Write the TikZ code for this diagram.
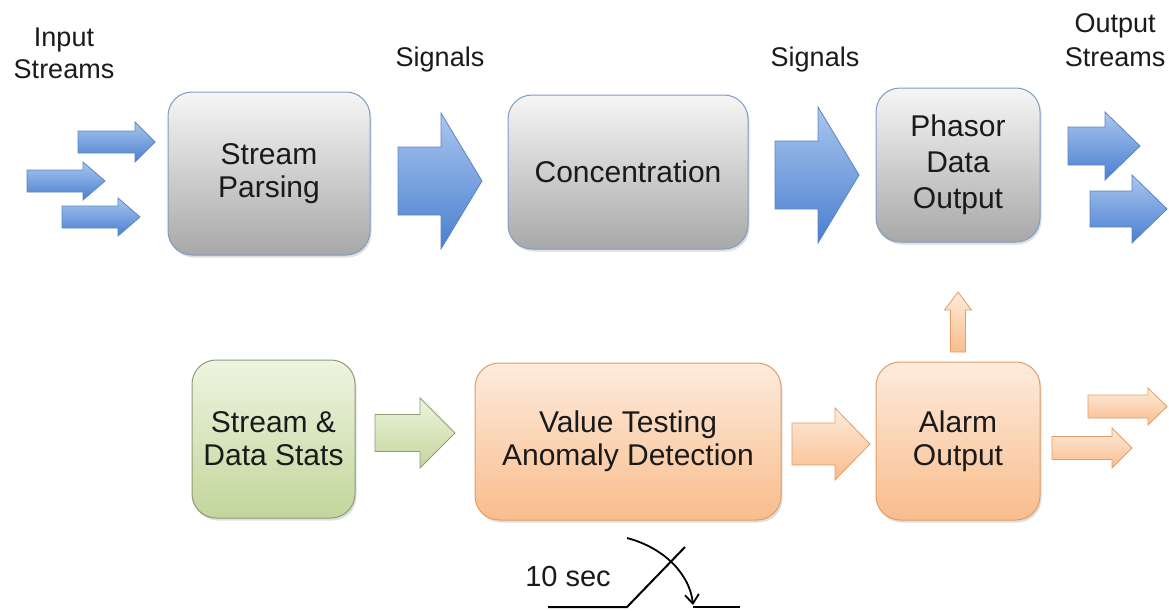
\documentclass[tikz,border=0pt]{standalone}
\usepackage{fontspec}
\setmainfont{Liberation Sans}
\usetikzlibrary{arrows.meta,shadows}
\definecolor{bluetop}{HTML}{A9C6EE}
\definecolor{bluebot}{HTML}{4A7FD0}
\definecolor{blueedge}{HTML}{5A86C0}
\definecolor{graytop}{HTML}{F6F6F6}
\definecolor{graybot}{HTML}{A8A8A8}
\definecolor{grayedge}{HTML}{7F9BC8}
\definecolor{greentop}{HTML}{EEF4E0}
\definecolor{greenbot}{HTML}{C2D69B}
\definecolor{greenedge}{HTML}{8E9C78}
\definecolor{orangetop}{HTML}{FDEBDD}
\definecolor{orangebot}{HTML}{F9BD8C}
\definecolor{orangeedge}{HTML}{E39C66}
\definecolor{txt}{HTML}{1A1A1A}
\newcommand{\blockarr}[7]{\path[#1] (#2,#5-#6) -- (#4,#5-#6) -- (#4,#5-#7) -- (#3,#5) -- (#4,#5+#7) -- (#4,#5+#6) -- (#2,#5+#6) -- cycle;}
\tikzset{
  boxbase/.style={rounded corners=24pt, line width=1pt, align=center, inner sep=0pt,
    text=txt, font=\fontsize{30}{33}\selectfont,
    drop shadow={shadow xshift=1.5pt, shadow yshift=-2.5pt, opacity=0.25}},
  graybox/.style={boxbase, draw=grayedge, top color=graytop, bottom color=graybot},
  greenbox/.style={boxbase, draw=greenedge, top color=greentop, bottom color=greenbot},
  orangebox/.style={boxbase, draw=orangeedge, top color=orangetop, bottom color=orangebot},
  barrow/.style={draw=blueedge, line width=0.8pt, top color=bluetop, bottom color=bluebot},
  garrow/.style={draw=greenedge, line width=0.8pt, top color=greentop, bottom color=greenbot},
  oarrow/.style={draw=orangeedge, line width=0.8pt, top color=orangetop, bottom color=orangebot},
  lbl/.style={align=center, text=txt, font=\fontsize{27}{32}\selectfont},
  wire/.style={line width=2pt, black},
}
\begin{document}
\begin{tikzpicture}[x=1pt,y=-1pt]
\useasboundingbox (0,0) rectangle (1169,610);
% labels
\node[lbl] (inlbl) at (64,53) {Input\\Streams};
\node[lbl] (sig1) at (440,60) {Signals};
\node[lbl] (sig2) at (815,60) {Signals};
\node[lbl, anchor=east, font=\fontsize{27}{34}\selectfont] (outlbl) at (1169,40) {Output\\Streams};
% boxes
\node[graybox, minimum width=202pt, minimum height=163pt] (parse) at (269,173.5) {Stream\\Parsing};
\node[graybox, minimum width=240pt, minimum height=154pt] (conc) at (628,172) {Concentration};
\node[graybox, minimum width=164pt, minimum height=154pt, font=\fontsize{30}{36}\selectfont] (phasor) at (958,165) {Phasor\\Data\\Output};
\node[greenbox, minimum width=163pt, minimum height=158pt] (stats) at (273.5,439) {Stream \&\\Data Stats};
\node[orangebox, minimum width=306pt, minimum height=157pt] (value) at (628,441.5) {Value Testing\\Anomaly Detection};
\node[orangebox, minimum width=164pt, minimum height=158pt] (alarm) at (958,441) {Alarm\\Output};
% blue arrows
\blockarr{barrow}{78}{155}{135}{142}{11}{20}
\blockarr{barrow}{27}{105}{83}{181}{11}{19}
\blockarr{barrow}{62}{140}{118}{217}{11}{19}
\blockarr{barrow}{398}{482}{441}{181}{34}{68}
\blockarr{barrow}{775}{859}{818}{175}{34}{68}
\blockarr{barrow}{1068}{1140}{1105}{146}{19}{34}
\blockarr{barrow}{1090}{1167}{1132}{209}{18}{34}
% green / orange arrows
\blockarr{garrow}{375}{455}{420}{433}{18.5}{35}
\blockarr{oarrow}{792}{870}{835}{444}{21}{36}
\blockarr{oarrow}{1088}{1167}{1148}{406.5}{11.5}{18.5}
\blockarr{oarrow}{1052}{1132}{1112}{448}{11.5}{20}
\path[oarrow] (950.5,352) -- (950.5,310) -- (944.5,310) -- (958,292) -- (971.5,310) -- (965.5,310) -- (965.5,352) -- cycle;
% switch
\node[lbl, font=\fontsize{29}{33}\selectfont] (tensec) at (568,577) {10 sec};
\coordinate (s1) at (548,607);
\coordinate (s2) at (627,607);
\coordinate (s3) at (685,547);
\coordinate (s4) at (693,607);
\coordinate (s5) at (740,607);
\coordinate (a1) at (627,538);
\coordinate (a2) at (693,605);
\draw[wire] (s1) -- (s2) -- (s3);
\draw[wire] (s4) -- (s5);
\draw[line width=1.8pt, -{Straight Barb[length=9pt,width=14pt]}] (a1) .. controls (665,548) and (690,575) .. (a2);
\end{tikzpicture}
\end{document}
